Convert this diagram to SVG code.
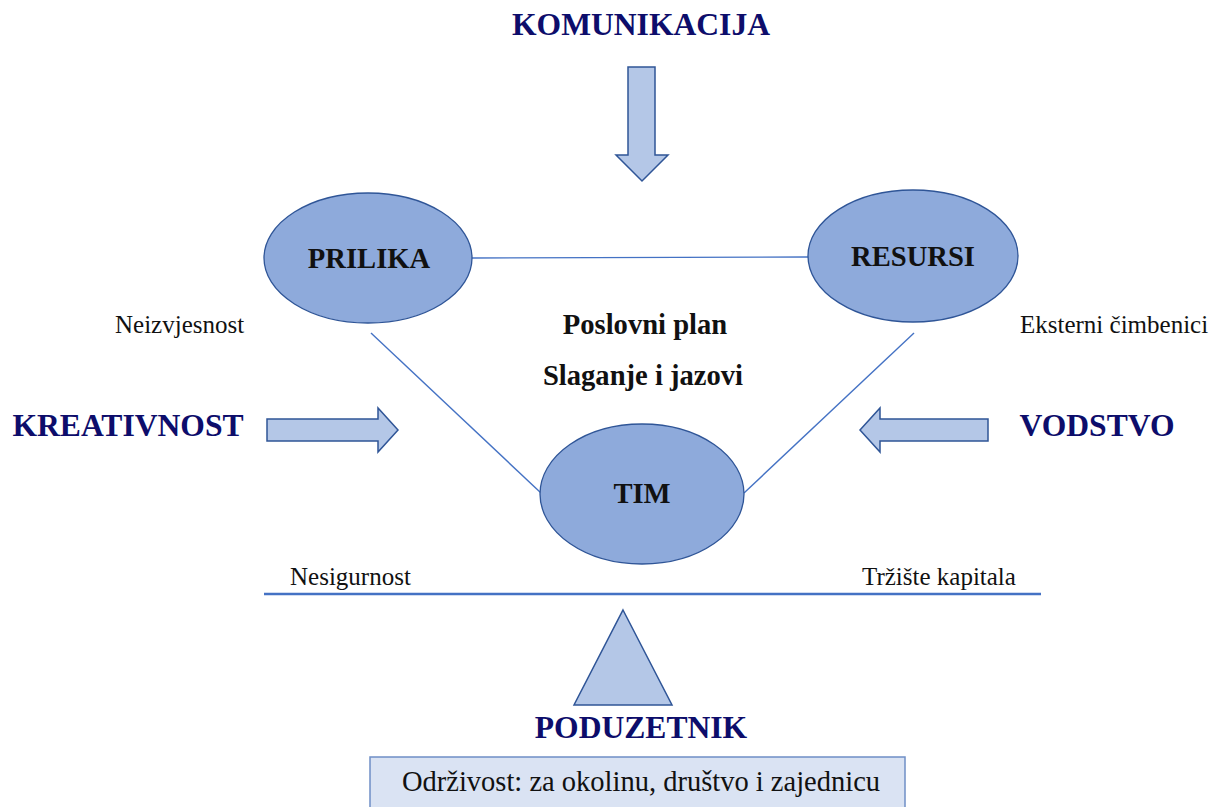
<svg xmlns="http://www.w3.org/2000/svg" width="1222" height="807" viewBox="0 0 1222 807">
<style>
.bg{fill:#ffffff}
.node{fill:#8eaadb;stroke:#2f5597;stroke-width:1.3}
.arr{fill:#b4c7e7;stroke:#2f5597;stroke-width:1.5;stroke-linejoin:miter}
.conn{stroke:#4472c4;stroke-width:1.4;fill:none}
.title{font-family:"Liberation Serif","Times New Roman",serif;font-weight:bold;font-size:31.6px;fill:#0d0d6b;text-anchor:middle}
.lbl{font-family:"Liberation Serif","Times New Roman",serif;font-weight:bold;font-size:28.6px;fill:#111;text-anchor:middle}
.txt{font-family:"Liberation Serif","Times New Roman",serif;font-size:25px;fill:#111}
.big{font-size:28.5px;text-anchor:middle}
</style>
<rect class="bg" x="0" y="0" width="1222" height="807"/>
<g id="connectors">
<line class="conn" x1="472" y1="258" x2="808" y2="257"/>
<line class="conn" x1="371" y1="333" x2="541" y2="493"/>
<line class="conn" x1="914" y1="333" x2="744" y2="493"/>
<line x1="264" y1="594" x2="1041" y2="594" stroke="#4472c4" stroke-width="2.6"/>
</g>
<g id="komunikacija">
<text class="title" x="641" y="35">KOMUNIKACIJA</text>
<polygon class="arr" points="628,67 655,67 655,155 668,155 642,181 616,155 628,155"/>
</g>
<g id="kreativnost">
<text class="title" x="128" y="436">KREATIVNOST</text>
<polygon class="arr" points="267,419 378,419 378,408 398,430 378,452 378,441 267,441"/>
</g>
<g id="vodstvo">
<text class="title" x="1097" y="436">VODSTVO</text>
<polygon class="arr" points="988,419 880,419 880,408 860,430 880,452 880,441 988,441"/>
</g>
<g id="prilika">
<ellipse class="node" cx="368" cy="258" rx="104" ry="65"/>
<text class="lbl" x="369" y="268">PRILIKA</text>
</g>
<g id="resursi">
<ellipse class="node" cx="913" cy="256" rx="105" ry="66"/>
<text class="lbl" x="913" y="266">RESURSI</text>
</g>
<g id="tim">
<ellipse class="node" cx="642" cy="494" rx="102" ry="70"/>
<text class="lbl" x="642" y="503">TIM</text>
</g>
<g id="plan">
<text class="lbl" x="645" y="334">Poslovni plan</text>
<text class="lbl" x="643" y="385">Slaganje i jazovi</text>
</g>
<g id="labels">
<text class="txt" x="115" y="333">Neizvjesnost</text>
<text class="txt" x="1020" y="333">Eksterni čimbenici</text>
<text class="txt" x="290" y="585">Nesigurnost</text>
<text class="txt" x="862" y="585">Tržište kapitala</text>
</g>
<g id="poduzetnik">
<polygon class="arr" points="623,610 672,705 574,705" stroke-width="1.3"/>
<text class="title" x="641" y="738">PODUZETNIK</text>
</g>
<g id="odrzivost">
<rect x="370" y="757" width="535" height="60" fill="#dae3f3" stroke="#6f8fc6" stroke-width="1.5"/>
<text class="txt big" x="641" y="791">Održivost: za okolinu, društvo i zajednicu</text>
</g>
</svg>
